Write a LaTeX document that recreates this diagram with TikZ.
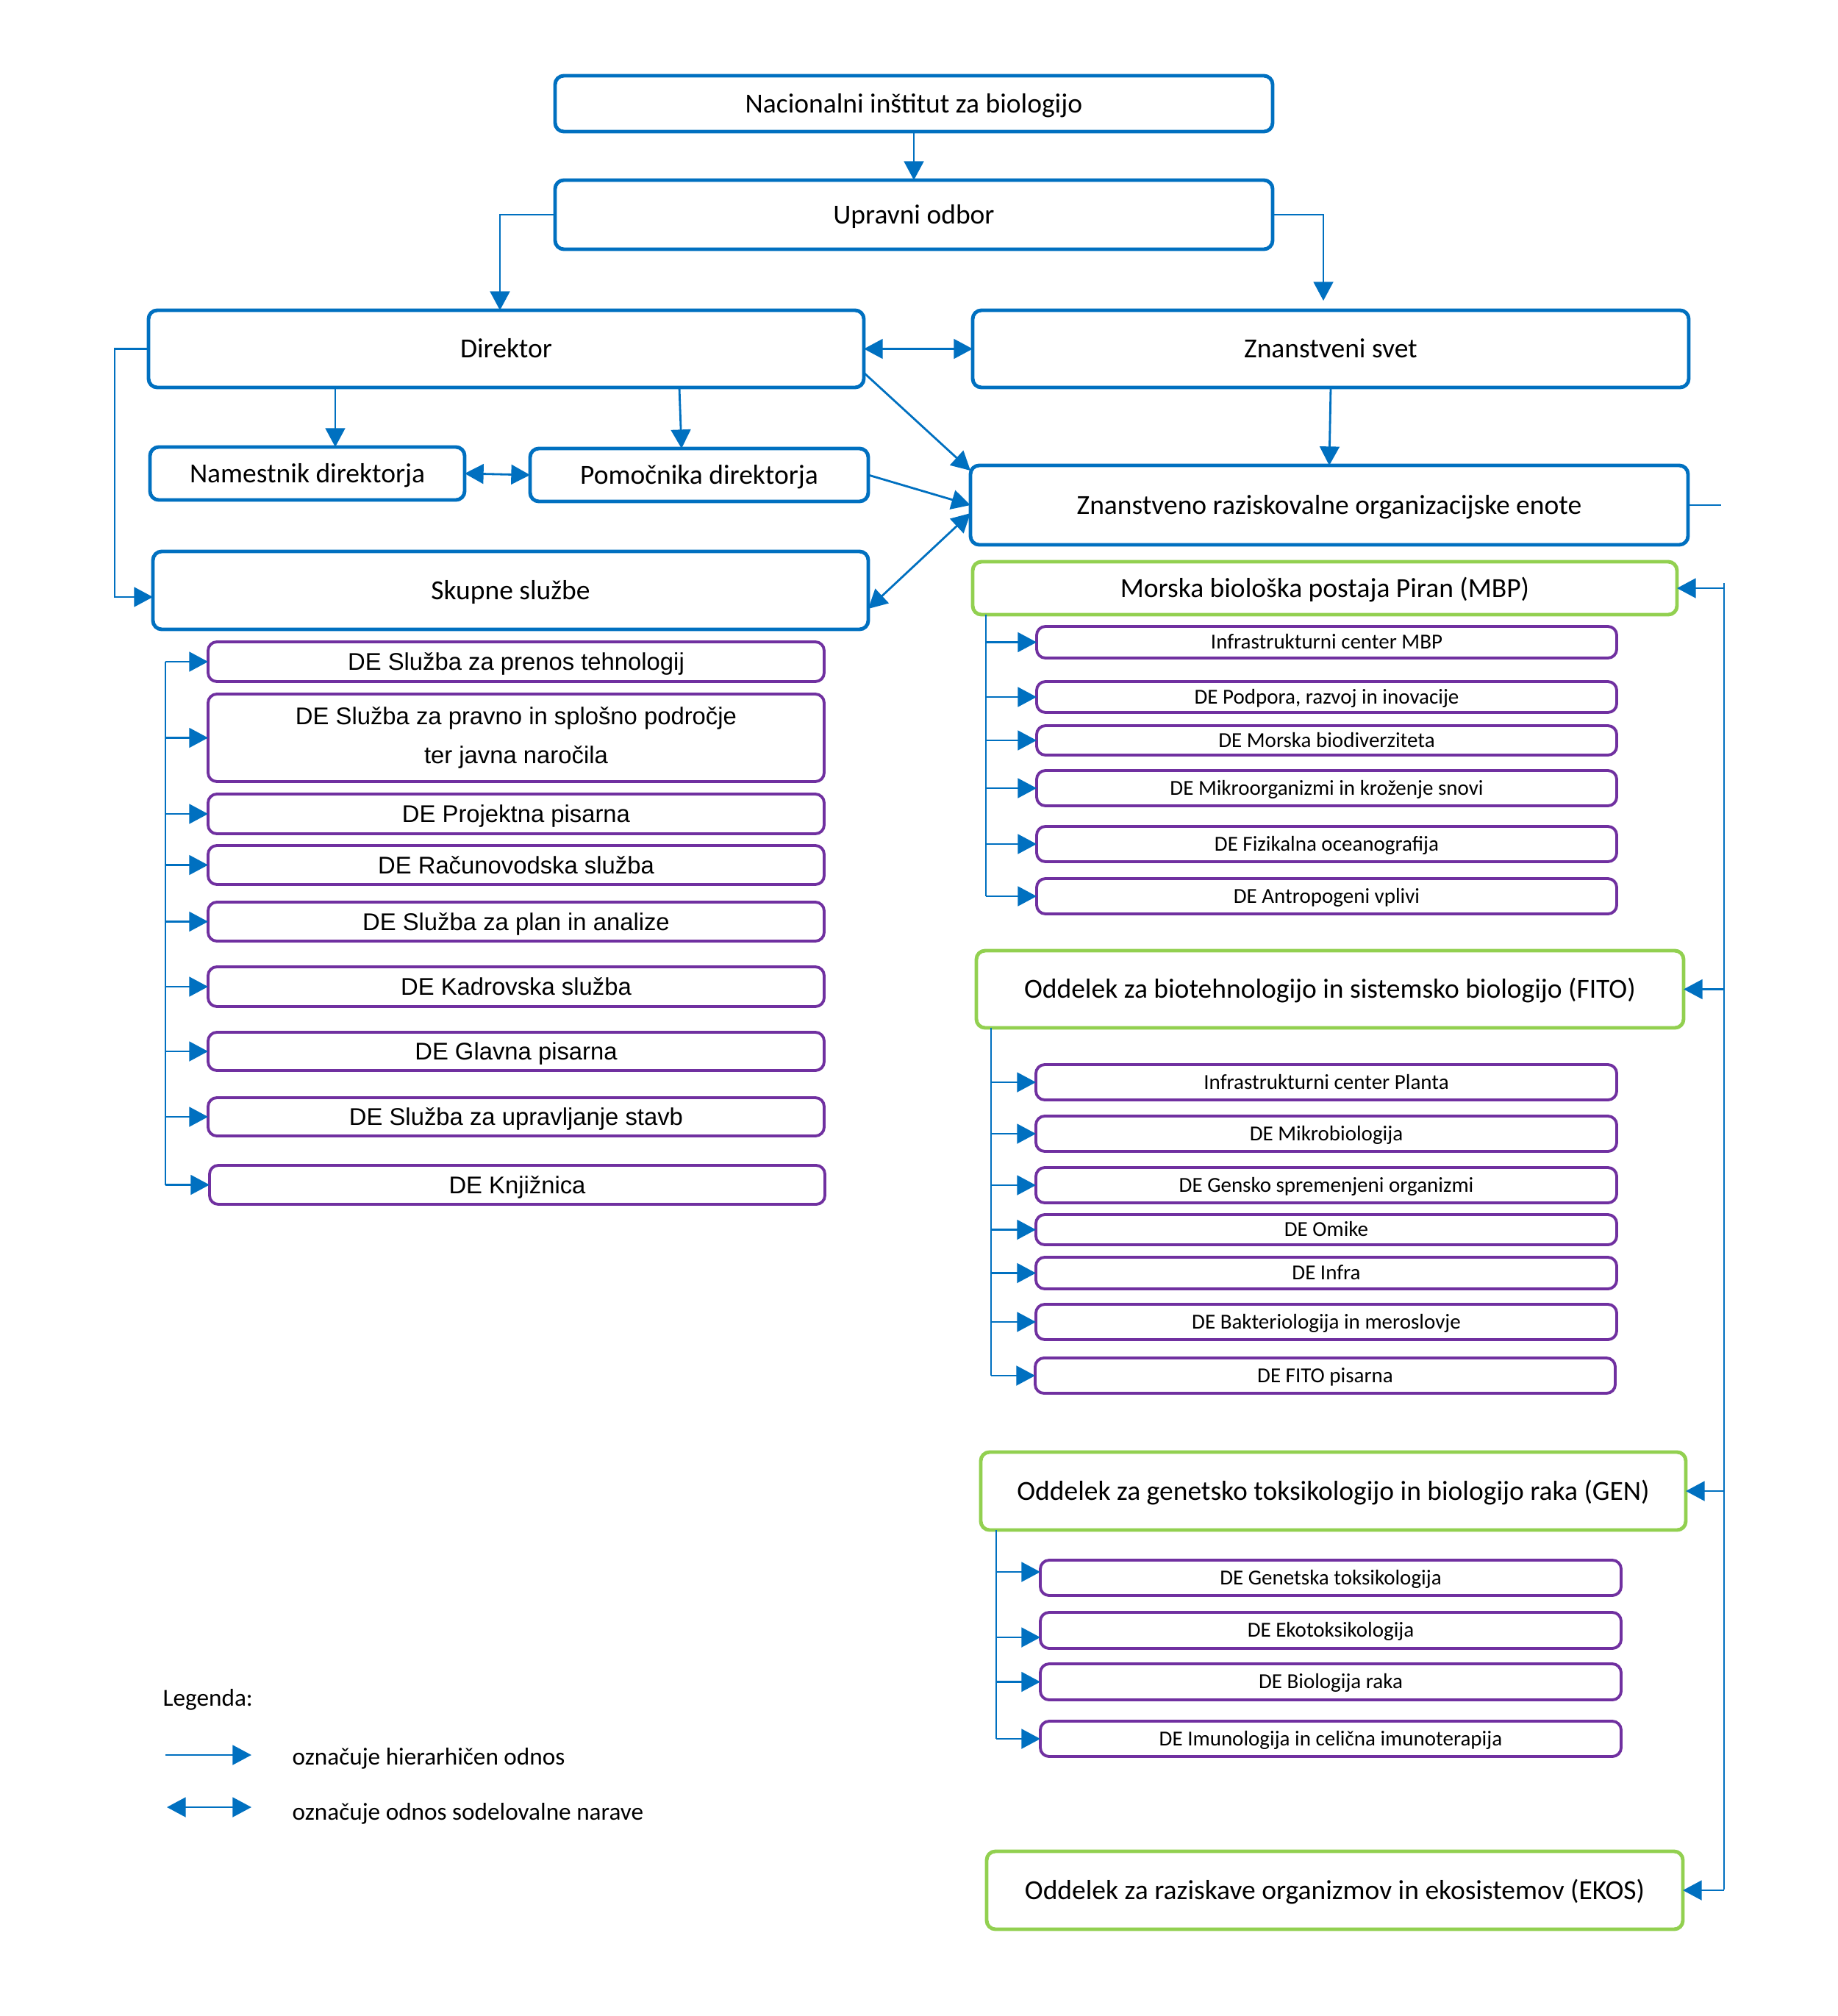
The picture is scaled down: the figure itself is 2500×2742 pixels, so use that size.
\documentclass[tikz,border=0pt]{standalone}
\usepackage{fontspec}
\setmainfont{Carlito}
\newfontfamily\arialf{Liberation Sans}
\usetikzlibrary{arrows.meta,calc}
\definecolor{cblue}{HTML}{0070C0}
\definecolor{cgreen}{HTML}{92D050}
\definecolor{cpurple}{HTML}{7030A0}
\newcommand\bx[7]{\node[#1, minimum width={(#5-#3)*0.01cm}, minimum height={(#6-#4)*0.01cm}] (#2) at ({(#3+#5)/2},{(#4+#6)/2}) {#7};}
\tikzset{
  box/.style={draw, rounded corners=3.4pt, inner sep=0pt, outer sep=0pt, align=center, fill=white},
  bluebox/.style={box, draw=cblue, line width=1.4pt, font=\fontsize{10.67}{13}\selectfont, text height=6.9pt, text depth=0pt},
  greenbox/.style={box, draw=cgreen, line width=1.4pt, font=\fontsize{10.67}{13}\selectfont, text height=6.9pt, text depth=0pt},
  pbox/.style={box, draw=cpurple, line width=1.1pt, font=\fontsize{8.25}{10}\selectfont, text height=5.3pt, text depth=0pt},
  aboxtwo/.style={box, draw=cpurple, line width=1.1pt, font=\arialf\fontsize{9.33}{15}\selectfont},
  abox/.style={aboxtwo, text height=6.7pt, text depth=0pt},
  legtext/.style={anchor=base west, inner sep=0pt, font=\fontsize{9.45}{11}\selectfont},
  conn/.style={draw=cblue, line width=0.8pt},
  arr/.style={conn, -{Triangle[length=7.3pt,width=7.6pt]}},
  darr/.style={conn, {Triangle[length=7.3pt,width=7.6pt]}-{Triangle[length=7.3pt,width=7.6pt]}},
}
\begin{document}
\begin{tikzpicture}[x=0.01cm, y=-0.01cm]
\fill[white] (0,0) rectangle (2500,2742);
\useasboundingbox (0,0) rectangle (2500,2742);
% main boxes
\bx{bluebox}{nib}{755}{103}{1731}{179}{Nacionalni inštitut za biologijo}
\bx{bluebox}{upr}{755}{245}{1731}{339}{Upravni odbor}
\bx{bluebox}{dir}{202}{422}{1175}{527}{Direktor}
\bx{bluebox}{zs}{1323}{422}{2297}{527}{Znanstveni svet}
\bx{bluebox}{nam}{204}{608}{632}{680}{Namestnik direktorja}
\bx{bluebox}{pom}{721}{610}{1181}{682}{Pomočnika direktorja}
\bx{bluebox}{sk}{208}{750}{1181}{856}{Skupne službe}
\bx{bluebox}{zroe}{1320}{633}{2296}{741}{Znanstveno raziskovalne organizacijske enote}
\bx{greenbox}{mbp}{1323}{764}{2281}{836}{Morska biološka postaja Piran (MBP)}
\bx{greenbox}{fito}{1328}{1293}{2290}{1398}{Oddelek za biotehnologijo in sistemsko biologijo (FITO)}
\bx{greenbox}{gen}{1334}{1975}{2293}{2081}{Oddelek za genetsko toksikologijo in biologijo raka (GEN)}
\bx{greenbox}{ekos}{1342}{2518}{2289}{2624}{Oddelek za raziskave organizmov in ekosistemov (EKOS)}
% MBP units
\bx{pbox}{m1}{1410}{852}{2199}{895}{Infrastrukturni center MBP}
\bx{pbox}{m2}{1410}{927}{2199}{969}{DE Podpora, razvoj in inovacije}
\bx{pbox}{m3}{1410}{987}{2199}{1027}{DE Morska biodiverziteta}
\bx{pbox}{m4}{1410}{1048}{2199}{1096}{DE Mikroorganizmi in kroženje snovi}
\bx{pbox}{m5}{1410}{1124}{2199}{1172}{DE Fizikalna oceanografija}
\bx{pbox}{m6}{1410}{1195}{2199}{1243}{DE Antropogeni vplivi}
% FITO units
\bx{pbox}{f1}{1409}{1448}{2199}{1496}{Infrastrukturni center Planta}
\bx{pbox}{f2}{1409}{1518}{2199}{1566}{DE Mikrobiologija}
\bx{pbox}{f3}{1409}{1588}{2199}{1636}{DE Gensko spremenjeni organizmi}
\bx{pbox}{f4}{1409}{1652}{2199}{1693}{DE Omike}
\bx{pbox}{f5}{1409}{1710}{2199}{1753}{DE Infra}
\bx{pbox}{f6}{1409}{1774}{2199}{1822}{DE Bakteriologija in meroslovje}
\bx{pbox}{f7}{1408}{1847}{2197}{1895}{DE FITO pisarna}
% GEN units
\bx{pbox}{g1}{1415}{2122}{2205}{2170}{DE Genetska toksikologija}
\bx{pbox}{g2}{1415}{2193}{2205}{2242}{DE Ekotoksikologija}
\bx{pbox}{g3}{1415}{2263}{2205}{2312}{DE Biologija raka}
\bx{pbox}{g4}{1415}{2341}{2205}{2389}{DE Imunologija in celična imunoterapija}
% Skupne sluzbe units
\bx{abox}{s1}{283}{873}{1121}{927}{DE Služba za prenos tehnologij}
\bx{aboxtwo}{s2}{283}{944}{1121}{1063}{DE Služba za pravno in splošno področje\\ter javna naročila}
\bx{abox}{s3}{283}{1080}{1121}{1134}{DE Projektna pisarna}
\bx{abox}{s4}{283}{1150}{1121}{1203}{DE Računovodska služba}
\bx{abox}{s5}{283}{1227}{1121}{1280}{DE Služba za plan in analize}
\bx{abox}{s6}{283}{1315}{1121}{1369}{DE Kadrovska služba}
\bx{abox}{s7}{283}{1404}{1121}{1456}{DE Glavna pisarna}
\bx{abox}{s8}{283}{1493}{1121}{1545}{DE Služba za upravljanje stavb}
\bx{abox}{s9}{285}{1585}{1122}{1638}{DE Knjižnica}
% connectors top
\draw[arr] (nib.south) -- (upr.north);
\draw[arr] (upr.west) -| (dir.north -| 680,0);
\draw[arr] (upr.east) -| ($(zs.north -| 1800,0)+(0,-13)$);
\draw[darr] (dir.east) -- (zs.west);
\draw[arr] (zs.south) -- (zroe.north);
\draw[arr] (dir.south -| 456,0) -- (nam.north -| 456,0);
\draw[arr] (dir.south -| 924,0) -- (pom.north -| 927,0);
\draw[darr] (nam.east) -- (pom.west);
\draw[arr] (dir.west) -- ++(-46,0) |- (sk.west |- 0,812);
\draw[arr] (dir.east |- 0,507) -- (zroe.west |- 0,640);
\draw[arr] (pom.east) -- (zroe.west |- 0,687);
\draw[darr] (zroe.west |- 0,698) -- (sk.east |- 0,828);
\draw[conn] (zroe.east) -- ++(45,0);
% right bus
\coordinate (rt) at (2345,793);
\coordinate (rb) at (2345,2570);
\draw[conn] (rt) -- (rb);
\foreach \n in {mbp,fito,gen,ekos} \draw[arr] (rt |- \n.east) -- (\n.east);
% sub buses
\draw[conn] (mbp.south -| 1341,0) -- (m6.west -| 1341,0);
\foreach \n in {m1,m2,m3,m4,m5,m6} \draw[arr] (\n.west -| 1341,0) -- (\n.west);
\draw[conn] (fito.south -| 1348,0) -- (f7.west -| 1348,0);
\foreach \n in {f1,f2,f3,f4,f5,f6,f7} \draw[arr] (\n.west -| 1348,0) -- (\n.west);
\draw[conn] (gen.south -| 1355,0) -- (g4.west -| 1355,0);
\draw[arr] (1355,2138) -- (g1.west |- 0,2138);
\draw[arr] (1355,2227) -- (g2.west |- 0,2227);
\foreach \n in {g3,g4} \draw[arr] (\n.west -| 1355,0) -- (\n.west);
\draw[conn] (s1.west -| 225,0) -- (s9.west -| 225,0);
\foreach \n in {s1,s2,s3,s4,s5,s6,s7,s8,s9} \draw[arr] (\n.west -| 225,0) -- (\n.west);
% legend
\node[legtext] (leg) at (221,2320) {Legenda:};
\coordinate (l1a) at (225,2387);
\coordinate (l1b) at (342,2387);
\draw[arr] (l1a) -- (l1b);
\node[legtext] (lt1) at (397,2400) {označuje hierarhičen odnos};
\coordinate (l2a) at (227,2458);
\coordinate (l2b) at (342,2458);
\draw[darr] (l2a) -- (l2b);
\node[legtext] (lt2) at (397,2475) {označuje odnos sodelovalne narave};
\end{tikzpicture}
\end{document}
